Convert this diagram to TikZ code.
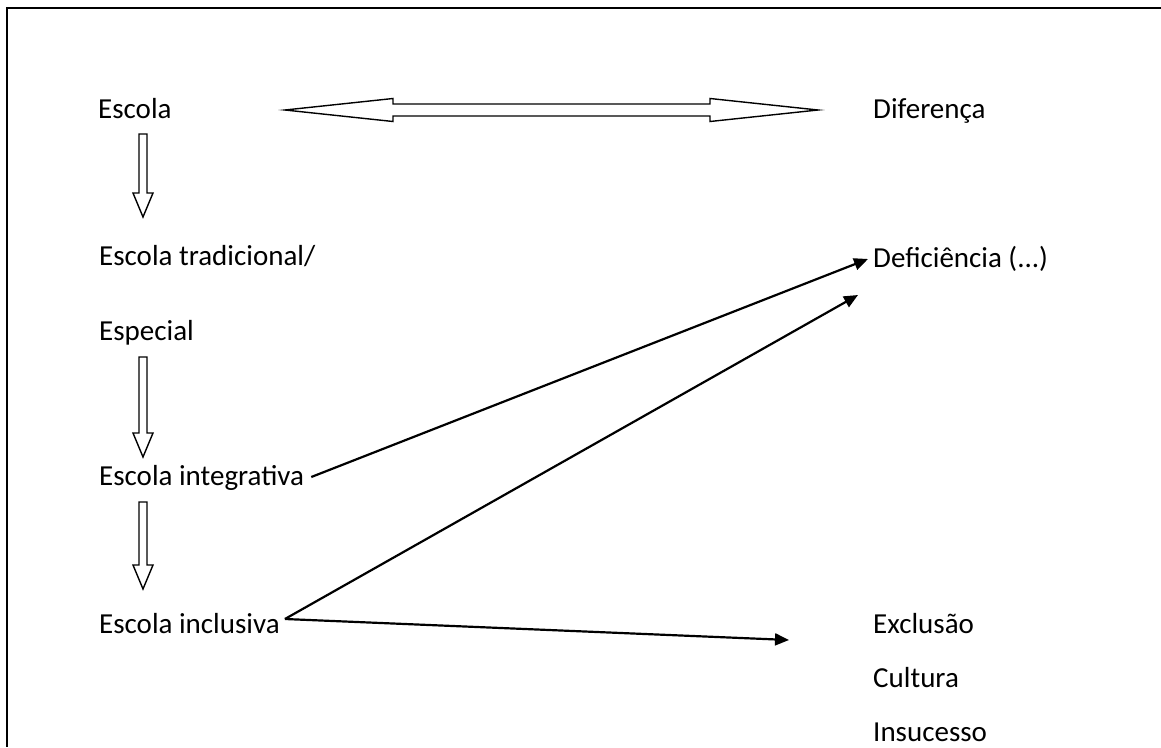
\documentclass[tikz,border=0pt]{standalone}
\usepackage{fontspec}
\setmainfont{Carlito}
\usetikzlibrary{arrows.meta}
\newcommand{\drawframe}{\draw[line width=2.7pt]}
\newcommand{\blockdown}[3]{\draw[line width=1.4pt,fill=white] (#1-4,#2)--(#1+4,#2)--(#1+4,#3-24)--(#1+10,#3-24)--(#1,#3)--(#1-10,#3-24)--(#1-4,#3-24)--cycle;}
\tikzset{
  lbl/.style={anchor=base west,inner sep=0pt,font=\fontsize{29}{34}\selectfont},
  conn/.style={line width=2.2pt,-{Triangle[length=14pt,width=12pt]}}
}

\begin{document}
\begin{tikzpicture}[x=1pt,y=-1pt]
\useasboundingbox (0,0) rectangle (1161,747);
\drawframe (1161,8)--(7,8)--(7,747);
\node[lbl] (escola) at (98,118) {Escola};
\node[lbl] (diferenca) at (873,118) {Diferença};
\node[lbl] (tradicional) at (99,265) {Escola tradicional/};
\node[lbl] (especial) at (99,340) {Especial};
\node[lbl] (integrativa) at (99,485) {Escola integrativa};
\node[lbl] (inclusiva) at (99,633) {Escola inclusiva};
\node[lbl] (deficiencia) at (873,267) {Deficiência (...)};
\node[lbl] (exclusao) at (873,633) {Exclusão};
\node[lbl] (cultura) at (873,687) {Cultura};
\node[lbl] (insucesso) at (873,741) {Insucesso};
\draw[line width=1.4pt] (285,110)--(393,98.5)--(393,104)--(710,104)--(710,98.5)--(818,110)--(710,121.5)--(710,116)--(393,116)--(393,121.5)--cycle;
\blockdown{143}{134}{217}\blockdown{143}{357}{457}\blockdown{143}{502}{589}
\coordinate (intR) at ([xshift=7pt,yshift=8pt]integrativa.base east);
\coordinate (incR) at ([xshift=5pt,yshift=14pt]inclusiva.base east);
\draw[conn] (intR)--([xshift=-5pt,yshift=8pt]deficiencia.base west);
\draw[conn] (incR)--([xshift=-15pt,yshift=-28pt]deficiencia.base west);
\draw[conn] (incR)--([xshift=-84pt,yshift=-7pt]exclusao.base west);
\end{tikzpicture}
\end{document}
